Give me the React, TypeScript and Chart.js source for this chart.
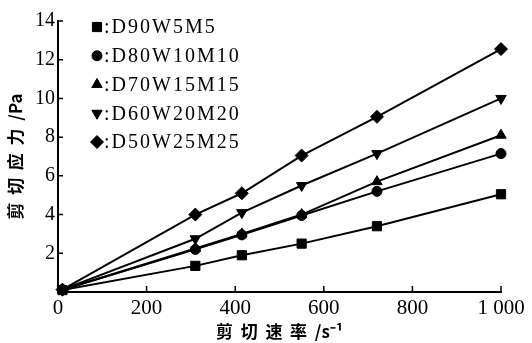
import React, { useEffect, useRef } from "react";
import { Chart, registerables } from "chart.js";
import { drawPoint } from "chart.js/helpers";

Chart.register(...registerables);

const shearRates = [10, 310, 415, 550, 720, 1000];
const seriesLabels = ["D90W5M5", "D80W10M10", "D70W15M15", "D60W20M20", "D50W25M25"];
const d90 = [0.1, 1.35, 1.9, 2.5, 3.4, 5.05];
const d80 = [0.12, 2.2, 2.95, 3.95, 5.2, 7.15];
const d70 = [0.12, 2.25, 3.0, 4.0, 5.7, 8.1];
const d60 = [0.12, 2.75, 4.1, 5.5, 7.15, 10.0];
const d50 = [0.12, 4.0, 5.1, 7.05, 9.05, 12.55];
const xTicks = [0, 200, 400, 600, 800, 1000];
const yTicks = [2, 4, 6, 8, 10, 12, 14];
const xTitle = "剪  切  速  率  /s⁻¹";
const yTitle = "剪  切  应  力  /Pa";

const allSeries = [d90, d80, d70, d60, d50];
const styles: any[] = [
  { pointStyle: "rect", radius: 6.5, rotation: 0 },
  { pointStyle: "circle", radius: 5, rotation: 0 },
  { pointStyle: "triangle", radius: 6, rotation: 0 },
  { pointStyle: "triangle", radius: 6, rotation: 180 },
  { pointStyle: "rectRot", radius: 6.5, rotation: 0 },
];

const legendPlugin = {
  id: "customLegend",
  afterDraw(chart: any) {
    const ctx = chart.ctx;
    ctx.save();
    chart.data.datasets.forEach((ds: any, i: number) => {
      const y = 27 + i * 28.75;
      ctx.fillStyle = "#000";
      ctx.strokeStyle = "#000";
      ctx.lineWidth = 1;
      drawPoint(
        ctx,
        { pointStyle: ds.pointStyle, rotation: ds.pointRotation || 0, radius: ds.pointRadius, borderWidth: 1 },
        97,
        y
      );
      ctx.font = '20px "Liberation Serif"';
      (ctx as any).letterSpacing = "2px";
      ctx.textBaseline = "middle";
      ctx.textAlign = "left";
      ctx.fillText(":" + ds.label, 104, y + 1);
      (ctx as any).letterSpacing = "0px";
    });
    ctx.restore();
  },
};

const inwardTicks = {
  id: "inwardTicks",
  afterDraw(chart: any) {
    const ctx = chart.ctx;
    const { left, bottom } = chart.chartArea;
    const xs = chart.scales.x;
    const ys = chart.scales.y;
    ctx.save();
    ctx.strokeStyle = "#000";
    ctx.lineWidth = 1.5;
    ctx.beginPath();
    yTicks.forEach((v) => {
      const p = ys.getPixelForValue(v);
      ctx.moveTo(left, p);
      ctx.lineTo(left + 5, p);
    });
    xTicks.forEach((v) => {
      if (v === 0) return;
      const p = xs.getPixelForValue(v);
      ctx.moveTo(p, bottom);
      ctx.lineTo(p, bottom - 6);
    });
    ctx.stroke();
    ctx.restore();
  },
};

export default function App() {
  const ref = useRef<HTMLCanvasElement | null>(null);
  useEffect(() => {
    if (!ref.current) return;
    const datasets = allSeries.map((vals, i) => ({
      label: seriesLabels[i],
      data: vals.map((v, j) => ({ x: shearRates[j], y: v })),
      borderColor: "#000",
      backgroundColor: "#000",
      borderWidth: 2,
      pointStyle: styles[i].pointStyle,
      pointRotation: styles[i].rotation,
      pointRadius: styles[i].radius,
      pointBorderWidth: 1,
      tension: 0,
      clip: false as any,
    }));
    const chart = new Chart(ref.current, {
      type: "line",
      data: { datasets },
      options: {
        responsive: false,
        animation: false,
        layout: { padding: { left: 0, top: 21, right: 31, bottom: 0 } },
        plugins: { legend: { display: false }, tooltip: { enabled: false } },
        scales: {
          x: {
            type: "linear",
            min: 0,
            max: 1000,
            afterFit: (s: any) => {
              s.height = 51;
            },
            afterBuildTicks: (s: any) => {
              s.ticks = xTicks.map((v) => ({ value: v }));
            },
            ticks: {
              color: "#000",
              padding: 4,
              maxRotation: 0,
              font: { family: "Liberation Serif", size: 21 },
              callback: (v: any) => (v === 1000 ? "1 000" : String(v)),
            },
            grid: { drawOnChartArea: false, drawTicks: false },
            border: { color: "#000", width: 2 },
            title: {
              display: true,
              text: xTitle,
              color: "#000",
              padding: { top: 0, bottom: 1 },
              font: { family: "Noto Sans CJK SC", size: 17, weight: "bold" },
            },
          },
          y: {
            type: "linear",
            min: 0,
            max: 14,
            afterFit: (s: any) => {
              s.width = 58;
            },
            afterBuildTicks: (s: any) => {
              s.ticks = [0, ...yTicks].map((v) => ({ value: v }));
            },
            ticks: {
              color: "#000",
              padding: 3,
              font: { family: "Liberation Serif", size: 20 },
              callback: (v: any) => (v === 0 ? "" : String(v)),
            },
            grid: { drawOnChartArea: false, drawTicks: false },
            border: { color: "#000", width: 2 },
            title: {
              display: true,
              text: yTitle,
              color: "#000",
              padding: { top: 5, bottom: 0 },
              font: { family: "Noto Sans CJK SC", size: 17, weight: "bold" },
            },
          },
        },
      },
      plugins: [legendPlugin, inwardTicks],
    });
    return () => chart.destroy();
  }, []);
  return (
    <div style={{ position: "absolute", left: 0, top: 0, width: 532, height: 343, background: "#fff" }}>
      <canvas ref={ref} width={532} height={343} style={{ display: "block" }} />
    </div>
  );
}
